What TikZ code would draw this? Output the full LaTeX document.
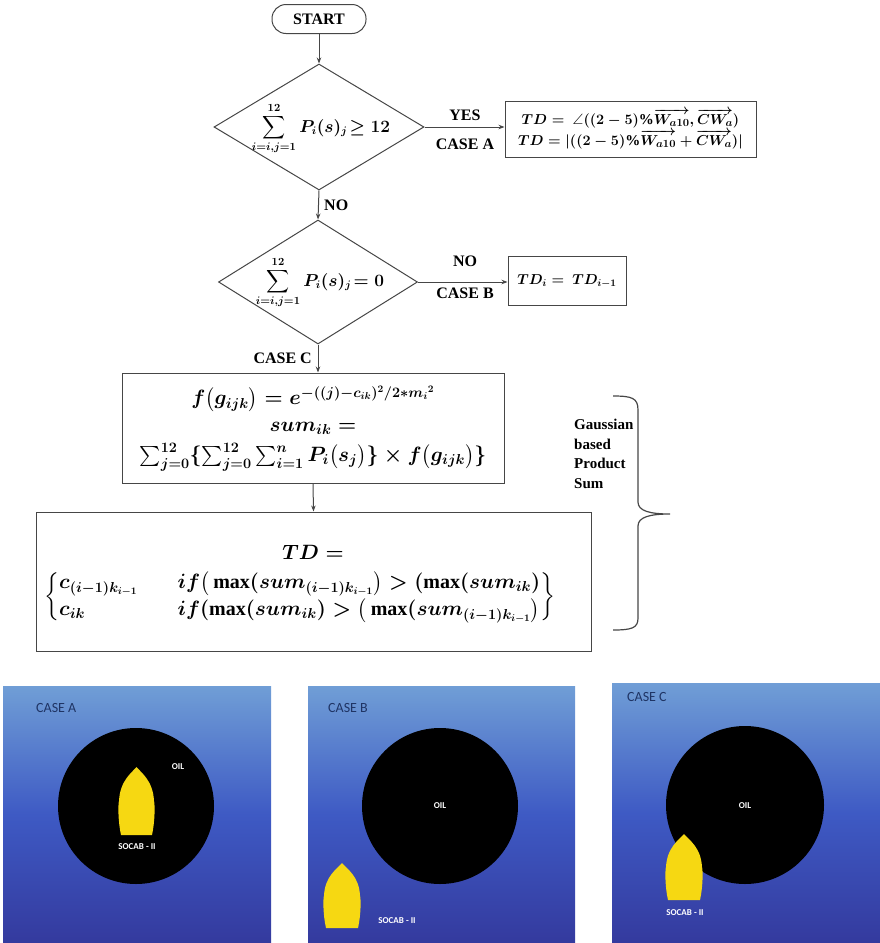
\documentclass[tikz,border=0pt]{standalone}
\usepackage{amsmath,amssymb}
\usepackage{fontspec}
\setmainfont{Liberation Serif}
\newfontfamily\panelfont{Carlito}
\usetikzlibrary{shapes.geometric,arrows.meta}

\definecolor{linegray}{RGB}{70,70,70}
\definecolor{seatop}{RGB}{112,158,214}
\definecolor{seamid}{RGB}{62,90,196}
\definecolor{seabot}{RGB}{52,58,158}
\definecolor{boatyellow}{RGB}{246,216,18}
\definecolor{casenavy}{RGB}{31,52,100}

% yellow hull seen from above: left, top, right, bottom
\newcommand\drawboat[4]{%
  \pgfmathsetmacro\bcx{(#1+#3)/2}%
  \pgfmathsetmacro\bh{#4-#2}%
  \fill[boatyellow] ({#1+2},{#4})
    .. controls ({#1-1},{#4-0.2*\bh}) and ({#1-1},{#4-0.45*\bh}) .. ({#1},{#4-0.5*\bh})
    .. controls ({#1+1},{#4-0.8*\bh}) and ({\bcx-5},{#2+6}) .. ({\bcx},{#2})
    .. controls ({\bcx+5},{#2+6}) and ({#3-1},{#4-0.8*\bh}) .. ({#3},{#4-0.5*\bh})
    .. controls ({#3+1},{#4-0.45*\bh}) and ({#3+1},{#4-0.2*\bh}) .. ({#3-2},{#4})
    -- cycle;}

\tikzset{
  flow/.style={draw=linegray, line width=1pt},
  arr/.style={flow, -{Stealth[length=6pt,width=4.5pt]}},
  box/.style={flow, rectangle, inner sep=0pt},
  dia/.style={flow, diamond, inner sep=0pt},
  lbl/.style={font=\fontsize{16}{19}\selectfont\bfseries, inner sep=0pt},
  mth/.style={font=\boldmath\fontsize{16}{22}\selectfont, inner sep=0pt, align=center},
  mthbig/.style={font=\boldmath\fontsize{20}{26}\selectfont, inner sep=0pt, align=center},
  side/.style={font=\fontsize{15}{19.5}\selectfont\bfseries, inner sep=0pt, align=left},
  casetxt/.style={font=\panelfont\fontsize{14}{16}\selectfont, text=casenavy, inner sep=0pt, anchor=west},
  oiltxt/.style={font=\panelfont\bfseries\fontsize{9}{10}\selectfont, text=white, inner sep=0pt},
  sea/.style={top color=seatop, bottom color=seabot, middle color=seamid},
}

\begin{document}
\begin{tikzpicture}[x=1pt,y=-1pt]
\useasboundingbox (0,0) rectangle (880,943);

% ---------- flowchart ----------
\node[flow, rectangle, rounded corners=14pt, minimum width=94pt, minimum height=29pt,
      font=\fontsize{16}{19}\selectfont\bfseries] (start) at (319,19) {START};

\node[dia, minimum width=210pt, minimum height=126pt] (d1) at (319,127) {};
\node[mth] (d1txt) at (321,129) {$\displaystyle\sum_{i=i,j=1}^{12} P_i(s)_j\!\geq 12$};

\node[box, minimum width=251pt, minimum height=56pt] (boxA) at (630.5,129) {};
\node[mth, font=\boldmath\fontsize{15}{21}\selectfont] (boxAtxt) at (630.5,129)
  {$TD =\ \angle((2-5)\%\overrightarrow{W_{a10}},\overrightarrow{CW_a})$\\
   $TD = |((2-5)\%\overrightarrow{W_{a10}}+\overrightarrow{CW_a})|$};

\node[dia, minimum width=199pt, minimum height=124pt] (d2) at (318,282) {};
\node[mth] (d2txt) at (320,283) {$\displaystyle\sum_{i=i,j=1}^{12} P_i(s)_j\!= 0$};

\node[box, minimum width=118pt, minimum height=49pt] (boxB) at (567,280.5) {};
\node[mth, font=\boldmath\fontsize{14.5}{20}\selectfont] (boxBtxt) at (567,281) {$TD_i =\ TD_{i-1}$};

\node[box, minimum width=382pt, minimum height=110pt] (c1) at (313,428) {};
\node[mthbig] (c1a) at (313,399) {$f\big(g_{ijk}\big) = e^{-((j)-c_{ik})^2/2*m_i{}^2}$};
\node[mthbig] (c1b) at (313,428) {$sum_{ik} =$};
\node[mthbig] (c1c) at (313,457)
  {$\sum_{j=0}^{12}\{\sum_{j=0}^{12}\sum_{i=1}^{n}P_i\big(s_j\big)\}\times f\big(g_{ijk}\big)\}$};

\node[box, minimum width=555pt, minimum height=139pt] (c2) at (313.5,581.5) {};
\node[mthbig] (c2a) at (313,552) {$TD =$};
\node[mthbig, anchor=west] (c2b) at (44,597)
  {$\left\{\begin{array}{@{}l@{\qquad}l@{}}
     c_{(i-1)k_{i-1}} & if\big(\max(sum_{(i-1)k_{i-1}}\big) > (\max(sum_{ik})\\[1pt]
     c_{ik} & if(\max(sum_{ik}) > \big(\max(sum_{(i-1)k_{i-1}}\big)
   \end{array}\right\}$};

% connectors
\draw[arr] (start.south) -- (d1.north);
\draw[arr] (d1.east) -- (boxA.west |- d1.east);
\draw[arr] (d1.south) -- (d2.north);
\draw[arr] (d2.east) -- (boxB.west |- d2.east);
\draw[arr] (d2.south) -- (d2.south |- c1.north);
\draw[arr] (c1.south) -- (c2.north);

% connector labels
\node[lbl] (yes) at (465,115) {YES};
\node[lbl] (caseA) at (465,144) {CASE A};
\node[lbl, anchor=west] (no1) at (324,205) {NO};
\node[lbl] (no2) at (465,261) {NO};
\node[lbl] (caseB) at (465,293) {CASE B};
\node[lbl, anchor=east] (caseC) at (312,358) {CASE C};

% brace grouping the two Gaussian steps
\draw[linegray, line width=1.2pt] (613,396) .. controls (632,396) and (638,398) .. (638,410)
  -- (638,502) .. controls (638,511) and (650,514) .. (670,514)
  .. controls (650,514) and (638,517) .. (638,526)
  -- (638,618) .. controls (638,628) and (632,630) .. (613,630);
\node[side, anchor=north west] (gbps) at (574,419) {Gaussian\\based\\Product\\Sum};

% ---------- scenario panels ----------
% case A: vessel inside the slick
\shade[sea] (3,686) rectangle (271,943);
\fill[black] (136,806) circle (78pt);
\drawboat{119}{767}{154}{835}
\node[casetxt] (pA) at (36,708) {CASE A};
\node[oiltxt] (oilA) at (178,767) {OIL};
\node[oiltxt] (shipA) at (137,847) {SOCAB - II};

% case B: vessel outside the slick
\shade[sea] (308,686) rectangle (575,943);
\fill[black] (440,806) circle (78pt);
\drawboat{324}{863}{360}{928}
\node[casetxt] (pB) at (328,708) {CASE B};
\node[oiltxt] (oilB) at (440,806) {OIL};
\node[oiltxt] (shipB) at (397,921) {SOCAB - II};

% case C: vessel at the slick edge
\shade[sea] (612,683) rectangle (880,943);
\fill[black] (745,805) circle (79pt);
\drawboat{666}{834}{702}{900}
\node[casetxt] (pC) at (627,697) {CASE C};
\node[oiltxt] (oilC) at (745,806) {OIL};
\node[oiltxt] (shipC) at (685,913) {SOCAB - II};
\end{tikzpicture}
\end{document}
